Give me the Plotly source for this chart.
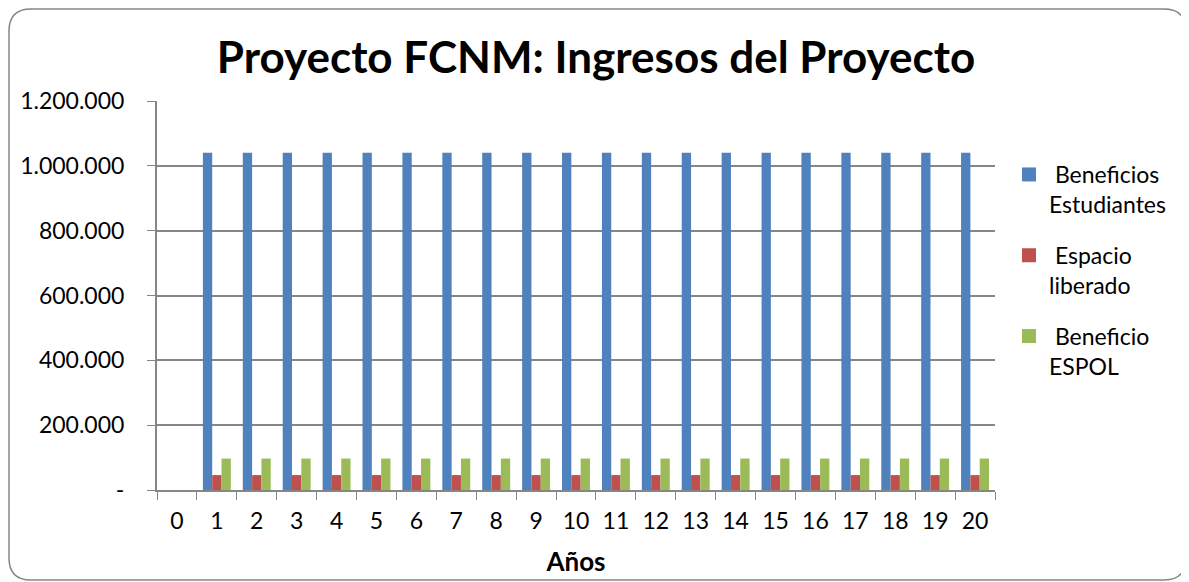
import plotly.graph_objects as go

years = [str(i) for i in range(0, 21)]
beneficios_estudiantes = [0] + [1040000] * 20
espacio_liberado = [0] + [46000] * 20
beneficio_espol = [0] + [97000] * 20

series_names = ["Beneficios<br>Estudiantes", "Espacio<br>liberado", "Beneficio<br>ESPOL"]
series_colors = ["#4F81BD", "#C0504D", "#9BBB59"]

y_tickvals = [0, 200000, 400000, 600000, 800000, 1000000, 1200000]
y_ticktext = ["-", "200.000", "400.000", "600.000", "800.000", "1.000.000", "1.200.000"]

OFF = 8  # page body margin
W, H = 1189 - OFF, 582 - OFF
# plot area in page pixels
PL, PR, PT, PB = 157, 995, 101, 490
L, R, T, B = PL - OFF, PR - OFF, PT - OFF, PB - OFF

fig = go.Figure()
for name, vals, col in zip(series_names, [beneficios_estudiantes, espacio_liberado, beneficio_espol], series_colors):
    fig.add_trace(go.Bar(x=years, y=vals, name=" " + name, legendgroup=name, showlegend=False,
                         marker=dict(color=col, line=dict(width=0))))
    # legend entry with a larger square swatch
    fig.add_trace(go.Scatter(x=[None], y=[None], mode="markers", name=" " + name, legendgroup=name,
                             marker=dict(symbol="square", size=14, color=col, line=dict(width=0))))

FONT = "Lato, Carlito, Calibri, sans-serif"

def px2x(px):  # page px -> paper
    return (px - PL) / (PR - PL)

def px2y(py):
    return (PB - py) / (PB - PT)

x0, x1, y0, y1, r = 9, 1186, 9, 580, 22
path = (
    f"M {px2x(x0 + r)} {px2y(y0)} L {px2x(x1 - r)} {px2y(y0)} "
    f"Q {px2x(x1)} {px2y(y0)} {px2x(x1)} {px2y(y0 + r)} "
    f"L {px2x(x1)} {px2y(y1 - r)} Q {px2x(x1)} {px2y(y1)} {px2x(x1 - r)} {px2y(y1)} "
    f"L {px2x(x0 + r)} {px2y(y1)} Q {px2x(x0)} {px2y(y1)} {px2x(x0)} {px2y(y1 - r)} "
    f"L {px2x(x0)} {px2y(y0 + r)} Q {px2x(x0)} {px2y(y0)} {px2x(x0 + r)} {px2y(y0)} Z"
)

fig.update_layout(
    width=W, height=H,
    margin=dict(l=L, r=W - R, t=T, b=H - B, autoexpand=False),
    paper_bgcolor="white", plot_bgcolor="white",
    font=dict(family=FONT, size=23, color="black"),
    barmode="group", bargap=0.3, bargroupgap=0,
    title=dict(text="<b>Proyecto FCNM: Ingresos del Proyecto</b>", x=(596 - OFF) / W, xanchor="center",
               xref="container", y=1 - (58 - OFF) / H, yanchor="middle", font=dict(size=44, family=FONT)),
    legend=dict(x=px2x(1009), y=px2y(153), xanchor="left", yanchor="top", valign="top",
                traceorder="grouped", font=dict(size=23, family=FONT), tracegroupgap=18,
                itemsizing="trace"),
    xaxis=dict(type="category", tickson="boundaries", ticks="outside", ticklen=8, tickcolor="#868686",
               showline=True, linecolor="#868686", linewidth=2, showgrid=False,
               title=dict(text="<b>Años</b>", font=dict(size=26, family=FONT), standoff=20),
               tickfont=dict(size=23), ticklabelstandoff=9),
    yaxis=dict(range=[0, 1200000], tickvals=y_tickvals, ticktext=y_ticktext, ticks="outside",
               ticklen=8, tickcolor="#868686", showline=True, linecolor="#868686", linewidth=2,
               showgrid=True, gridcolor="#868686", gridwidth=1.5, zeroline=False,
               tickfont=dict(size=23), ticklabelstandoff=18),
    shapes=[dict(type="path", path=path, xref="paper", yref="paper",
                 line=dict(color="#868686", width=1.5), fillcolor="rgba(0,0,0,0)", layer="below")],
)

fig.write_html("out.html")
